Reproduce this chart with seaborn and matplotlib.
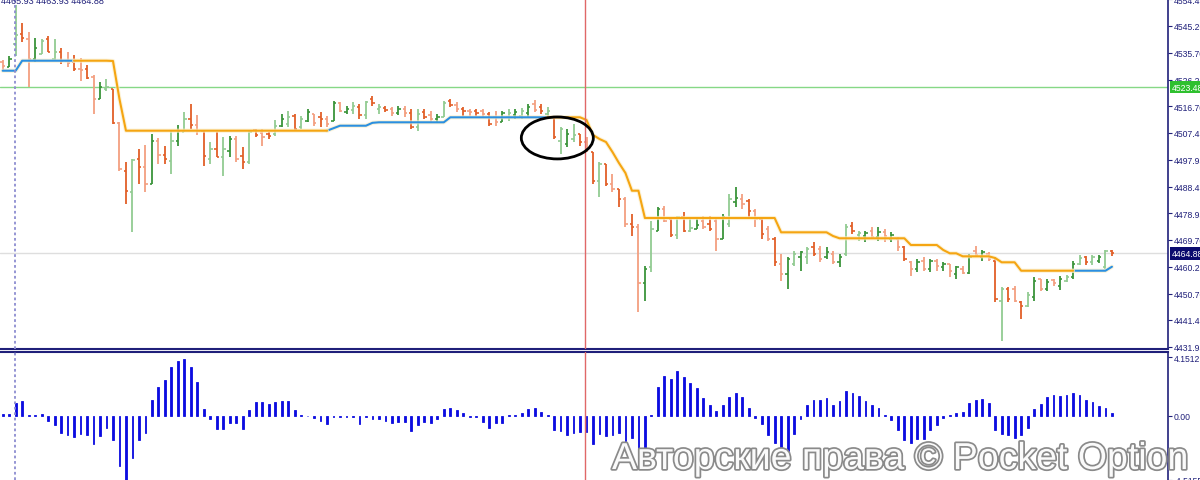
import matplotlib
matplotlib.use("Agg")
import matplotlib.pyplot as plt
import matplotlib.patheffects as pe
from matplotlib.patches import Ellipse
import numpy as np
import pandas as pd
import seaborn as sns

# OHLC bars (one per period)
open_ = [
    4532.39, 4530.63, 4538.74, 4542.27, 4540.51, 4533.45, 4535.22, 4540.51, 4533.45, 4535.92,
    4532.75, 4532.39, 4529.92, 4529.92, 4527.10, 4519.34, 4522.87, 4522.87, 4510.87, 4493.94,
    4486.53, 4498.17, 4495.35, 4489.35, 4504.52, 4499.58, 4497.47, 4504.52, 4507.70, 4512.28,
    4510.17, 4508.05, 4498.17, 4501.70, 4498.88, 4500.99, 4505.23, 4499.23, 4497.11, 4508.40,
    4507.34, 4506.99, 4506.99, 4509.81, 4510.52, 4513.34, 4509.46, 4511.58, 4514.05, 4512.99,
    4512.28, 4511.58, 4517.93, 4514.75, 4515.46, 4516.52, 4513.70, 4519.34, 4515.81, 4516.16,
    4515.81, 4514.40, 4515.81, 4514.40, 4509.46, 4514.75, 4513.70, 4512.28, 4512.99, 4518.63,
    4517.22, 4515.81, 4515.11, 4515.11, 4515.11, 4514.05, 4512.99, 4511.23, 4512.99, 4513.70,
    4513.34, 4514.40, 4517.58, 4516.52, 4514.05, 4512.99, 4504.52, 4503.46, 4505.23, 4506.99,
    4504.17, 4500.64, 4490.41, 4496.41, 4489.35, 4487.59, 4484.06, 4475.24, 4474.18, 4454.42,
    4460.07, 4472.77, 4480.53, 4477.00, 4471.36, 4477.71, 4472.77, 4473.48, 4476.30, 4475.24,
    4476.30, 4469.95, 4475.24, 4483.00, 4484.06, 4483.35, 4479.83, 4477.00, 4473.48, 4469.95,
    4461.13, 4457.60, 4461.13, 4463.60, 4463.60, 4467.13, 4466.42, 4463.60, 4464.66, 4461.83,
    4464.66, 4474.53, 4471.36, 4471.01, 4472.77, 4470.65, 4472.42, 4469.95, 4469.95, 4467.13,
    4461.83, 4459.36, 4462.19, 4459.36, 4462.19, 4460.07, 4461.13, 4457.60, 4459.36, 4457.95,
    4465.71, 4463.60, 4464.66, 4462.19, 4448.07, 4452.31, 4452.31, 4447.72, 4446.31, 4449.49,
    4455.84, 4452.31, 4455.48, 4453.37, 4455.13, 4456.54, 4461.13, 4463.60, 4461.83, 4462.19,
    4460.07, 4465.71,
]
high = [
    4533.10, 4534.51, 4552.50, 4546.15, 4542.98, 4540.86, 4540.51, 4541.57, 4540.51, 4537.33,
    4535.92, 4534.86, 4533.80, 4531.34, 4527.81, 4525.34, 4526.40, 4522.87, 4511.23, 4497.11,
    4498.17, 4501.70, 4503.11, 4506.99, 4505.58, 4502.76, 4508.05, 4510.17, 4514.75, 4517.58,
    4513.70, 4508.05, 4504.17, 4507.70, 4505.93, 4506.29, 4506.29, 4502.41, 4508.05, 4508.76,
    4508.76, 4507.70, 4511.93, 4514.05, 4515.11, 4514.05, 4513.34, 4515.81, 4514.05, 4514.75,
    4513.34, 4518.63, 4518.28, 4516.87, 4518.28, 4517.58, 4518.63, 4520.40, 4517.58, 4516.87,
    4516.52, 4516.87, 4516.87, 4515.81, 4515.81, 4515.81, 4515.11, 4514.05, 4518.63, 4519.34,
    4518.28, 4516.52, 4515.81, 4515.81, 4515.81, 4514.75, 4515.11, 4515.11, 4515.81, 4515.81,
    4516.16, 4517.58, 4518.99, 4517.58, 4516.52, 4512.99, 4509.46, 4508.76, 4510.52, 4506.99,
    4505.93, 4500.64, 4497.11, 4496.41, 4492.88, 4487.59, 4484.77, 4478.77, 4475.24, 4460.42,
    4476.30, 4481.24, 4481.59, 4477.71, 4478.06, 4479.47, 4477.71, 4477.00, 4478.06, 4478.06,
    4477.00, 4478.77, 4485.82, 4488.29, 4485.82, 4484.06, 4480.53, 4477.00, 4474.53, 4470.65,
    4464.66, 4463.60, 4465.71, 4465.71, 4467.13, 4468.89, 4467.48, 4467.13, 4465.71, 4464.66,
    4475.24, 4475.95, 4472.77, 4472.77, 4474.18, 4474.18, 4473.48, 4472.42, 4470.65, 4467.48,
    4462.19, 4462.89, 4463.60, 4462.89, 4462.89, 4461.83, 4461.13, 4460.42, 4460.42, 4464.66,
    4467.48, 4466.07, 4465.36, 4463.60, 4453.01, 4453.01, 4453.37, 4448.07, 4451.25, 4456.54,
    4455.84, 4455.84, 4455.84, 4456.89, 4457.25, 4462.19, 4464.30, 4463.95, 4464.30, 4464.30,
    4466.07, 4465.93,
]
low = [
    4529.57, 4530.63, 4534.51, 4539.45, 4523.57, 4532.39, 4535.22, 4535.92, 4532.75, 4531.69,
    4530.63, 4529.22, 4525.69, 4526.40, 4514.05, 4519.34, 4522.16, 4510.52, 4493.94, 4482.30,
    4472.42, 4489.35, 4486.53, 4489.35, 4496.41, 4496.41, 4492.88, 4502.76, 4507.70, 4508.76,
    4506.64, 4495.70, 4496.41, 4498.88, 4492.17, 4498.88, 4497.11, 4494.64, 4496.41, 4505.93,
    4502.76, 4505.23, 4506.29, 4509.46, 4509.46, 4508.05, 4508.76, 4511.23, 4509.81, 4509.46,
    4509.46, 4511.58, 4514.75, 4514.05, 4514.05, 4512.28, 4512.28, 4516.87, 4514.05, 4514.75,
    4513.34, 4513.70, 4512.99, 4508.76, 4508.05, 4512.28, 4511.23, 4511.23, 4512.99, 4516.52,
    4514.75, 4513.34, 4513.34, 4513.34, 4512.99, 4509.81, 4509.81, 4511.23, 4511.58, 4512.28,
    4512.28, 4512.99, 4514.75, 4514.05, 4513.34, 4505.23, 4499.94, 4502.41, 4504.17, 4502.76,
    4500.64, 4489.35, 4484.77, 4488.65, 4486.53, 4481.24, 4474.18, 4471.01, 4444.19, 4448.07,
    4458.31, 4472.77, 4475.95, 4470.65, 4469.95, 4472.42, 4472.42, 4473.48, 4473.48, 4472.77,
    4465.71, 4469.95, 4474.18, 4481.24, 4480.53, 4477.00, 4474.18, 4469.95, 4469.24, 4460.42,
    4455.13, 4452.31, 4460.42, 4458.66, 4461.13, 4463.95, 4461.83, 4462.89, 4461.13, 4460.07,
    4463.95, 4471.71, 4469.24, 4468.89, 4469.95, 4469.24, 4468.89, 4468.89, 4465.71, 4462.19,
    4456.89, 4458.31, 4458.66, 4458.31, 4458.66, 4458.66, 4456.54, 4455.84, 4457.60, 4457.60,
    4463.60, 4462.19, 4462.19, 4447.72, 4433.96, 4447.72, 4447.72, 4441.72, 4445.96, 4448.07,
    4451.60, 4451.60, 4453.37, 4451.96, 4454.78, 4455.84, 4460.78, 4460.78, 4460.78, 4461.48,
    4459.36, 4463.93,
]
close = [
    4530.98, 4533.45, 4541.92, 4540.86, 4533.45, 4537.33, 4539.80, 4535.92, 4535.92, 4532.75,
    4532.04, 4529.92, 4529.57, 4526.75, 4519.34, 4523.57, 4523.57, 4510.87, 4494.64, 4486.88,
    4497.82, 4495.35, 4489.35, 4504.52, 4499.58, 4498.17, 4504.52, 4508.05, 4512.28, 4510.17,
    4508.05, 4499.23, 4501.70, 4498.88, 4501.70, 4505.23, 4498.17, 4497.11, 4507.70, 4506.64,
    4505.93, 4506.29, 4509.81, 4512.28, 4512.99, 4508.76, 4512.28, 4514.75, 4510.87, 4512.28,
    4510.52, 4517.93, 4515.11, 4515.81, 4516.87, 4513.70, 4518.28, 4517.93, 4516.52, 4515.46,
    4514.40, 4515.81, 4514.40, 4509.46, 4514.05, 4512.99, 4512.28, 4512.99, 4517.93, 4517.22,
    4515.81, 4515.11, 4514.75, 4514.40, 4514.05, 4510.52, 4511.23, 4514.40, 4514.40, 4514.75,
    4515.11, 4516.52, 4515.46, 4515.11, 4515.11, 4505.93, 4508.76, 4506.99, 4506.64, 4504.17,
    4501.70, 4490.41, 4496.41, 4489.35, 4487.59, 4484.06, 4475.24, 4474.18, 4454.42, 4459.36,
    4473.48, 4480.53, 4476.30, 4471.36, 4477.71, 4472.77, 4473.83, 4474.89, 4474.18, 4473.48,
    4469.95, 4477.71, 4484.06, 4484.41, 4482.30, 4479.83, 4477.00, 4471.71, 4469.95, 4461.83,
    4457.60, 4462.89, 4464.66, 4465.36, 4466.42, 4464.66, 4462.89, 4465.36, 4461.83, 4463.60,
    4474.18, 4472.77, 4472.06, 4472.06, 4470.65, 4472.42, 4471.01, 4471.36, 4467.13, 4462.89,
    4459.36, 4461.83, 4459.36, 4462.19, 4460.42, 4461.13, 4458.66, 4460.07, 4457.95, 4463.60,
    4464.30, 4465.36, 4462.89, 4448.78, 4452.31, 4448.78, 4448.07, 4446.31, 4450.19, 4455.13,
    4452.31, 4454.78, 4454.42, 4455.84, 4456.54, 4461.13, 4463.24, 4461.83, 4463.60, 4463.60,
    4465.71, 4464.88,
]

# trailing stop line and its direction
stop_line = [
    4529.32, 4529.32, 4529.32, 4532.85, 4532.85, 4532.85, 4532.85, 4532.85, 4532.85, 4532.85,
    4532.85, 4532.85, 4532.85, 4532.85, 4532.85, 4532.85, 4532.85, 4532.75, 4519.34, 4508.16,
    4508.16, 4508.16, 4508.16, 4508.16, 4508.16, 4508.16, 4508.16, 4508.16, 4508.16, 4508.16,
    4508.16, 4508.16, 4508.16, 4508.16, 4508.16, 4508.16, 4508.16, 4508.16, 4508.16, 4508.16,
    4508.16, 4508.16, 4508.16, 4508.16, 4508.16, 4508.16, 4508.16, 4508.16, 4508.16, 4508.16,
    4508.16, 4509.04, 4509.92, 4509.92, 4509.92, 4509.92, 4509.92, 4510.94, 4511.12, 4511.12,
    4511.12, 4511.12, 4511.12, 4511.12, 4511.12, 4511.12, 4511.12, 4511.12, 4511.12, 4512.88,
    4512.88, 4512.88, 4512.88, 4512.88, 4512.88, 4512.88, 4512.88, 4512.88, 4512.88, 4512.88,
    4512.88, 4512.88, 4512.88, 4512.88, 4512.88, 4512.88, 4512.88, 4512.88, 4512.88, 4512.88,
    4511.93, 4506.64, 4505.23, 4504.17, 4500.64, 4496.76, 4493.23, 4486.99, 4486.99, 4477.36,
    4477.36, 4477.36, 4477.36, 4477.36, 4477.36, 4477.36, 4477.36, 4477.36, 4477.36, 4477.36,
    4477.36, 4477.36, 4477.36, 4477.36, 4477.36, 4477.36, 4477.36, 4477.36, 4477.36, 4477.36,
    4472.31, 4472.31, 4472.31, 4472.31, 4472.31, 4472.31, 4472.31, 4472.31, 4471.01, 4470.20,
    4470.20, 4470.20, 4470.20, 4470.20, 4470.20, 4470.20, 4470.20, 4470.20, 4470.20, 4470.20,
    4467.83, 4467.83, 4467.83, 4467.83, 4467.83, 4466.07, 4464.90, 4464.90, 4463.84, 4463.84,
    4463.84, 4463.84, 4463.84, 4463.24, 4461.73, 4461.73, 4461.73, 4458.76, 4458.76, 4458.76,
    4458.76, 4458.76, 4458.76, 4458.76, 4458.76, 4458.76, 4458.76, 4458.76, 4458.76, 4458.76,
    4458.76, 4460.17,
]
trend_runs = [("up", 12), ("down", 39), ("up", 34), ("down", 81), ("up", 6)]

# oscillator histogram (lower panel)
osc = [
    0.12, 0.16, 0.94, 1.03, 0.03, 0.03, 0.16, -0.38, -0.66, -1.17,
    -1.36, -1.48, -1.29, -1.36, -1.95, -1.41, -0.84, -1.69, -3.52, -4.50,
    -2.93, -1.69, -1.17, 1.13, 2.04, 2.51, 3.47, 3.85, 4.04, 3.47,
    2.37, 0.49, -0.21, -0.94, -0.94, -0.49, -0.52, -0.94, 0.45, 1.01,
    1.01, 0.82, 0.96, 1.08, 1.08, 0.40, 0.05, 0.02, -0.16, -0.33,
    -0.56, -0.05, -0.05, -0.05, -0.05, -0.56, -0.09, -0.19, -0.19, -0.33,
    -0.52, -0.42, -0.40, -1.03, -0.61, -0.42, -0.47, -0.19, 0.47, 0.56,
    0.40, 0.19, -0.09, -0.09, -0.40, -0.84, -0.47, -0.47, 0.07, 0.09,
    0.19, 0.52, 0.56, 0.28, 0.05, -0.99, -1.03, -1.36, -1.17, -1.10,
    -1.10, -1.97, -1.29, -1.41, -1.36, -1.17, -1.76, -1.53, -2.46, -2.35,
    0.05, 2.04, 2.79, 2.63, 3.17, 2.72, 2.32, 2.00, 1.24, 0.75,
    0.33, 0.75, 1.36, 1.60, 1.36, 0.59, -0.12, -0.59, -1.36, -1.92,
    -2.46, -2.46, -1.29, -0.23, 0.75, 1.10, 1.10, 1.29, 0.80, 1.03,
    1.74, 1.64, 1.41, 1.06, 0.75, 0.55, 0.07, -0.30, -1.01, -1.69,
    -1.88, -1.64, -1.60, -1.01, -0.66, -0.12, 0.05, 0.23, 0.28, 0.94,
    1.13, 1.17, 0.94, -1.01, -1.29, -1.36, -1.53, -1.36, -0.87, 0.47,
    0.87, 1.36, 1.46, 1.38, 1.46, 1.64, 1.46, 1.13, 0.99, 0.70,
    0.59, 0.23,
]

price_ticks = [4431.95, 4441.45, 4450.70, 4460.20, 4469.70, 4478.95, 4488.45,
               4497.95, 4507.45, 4516.70, 4526.20, 4535.70, 4545.20, 4554.45]
osc_ticks = [4.1512, 0.0, -4.5155]
osc_tick_labels = ["4.1512", "0.00", "-4.5155"]
level_line = 4523.48
last_price = 4464.88
header_text = "4465.93 4463.93 4464.88"
watermark = "Авторские права © Pocket Option"

NAVY = "#20207a"
UP_DARK, UP_LIGHT = "#3a943a", "#92cb92"
DN_DARK, DN_LIGHT = "#e25f28", "#f39f80"

sns.set_style("white")
plt.rcParams["font.family"] = ["Liberation Sans", "DejaVu Sans"]

W, H = 1200, 481
fig = plt.figure(figsize=(12, 4.81), dpi=100)
ax = fig.add_axes([0, 131.5 / H, 1168 / W, 349.5 / H])
ax2 = fig.add_axes([0, 0, 1168 / W, 128.5 / H])

idx = np.arange(len(close))
up = np.array(close) >= np.array(open_)
dark = idx % 2 == 1
bar_colors = np.where(up, np.where(dark, UP_DARK, UP_LIGHT),
                      np.where(dark, DN_DARK, DN_LIGHT))

# price bars
ax.vlines(idx, low, high, colors=bar_colors, lw=1.3, zorder=3)
ax.hlines(open_, idx - 0.36, idx, colors=bar_colors, lw=1.2, zorder=3)
ax.hlines(close, idx, idx + 0.36, colors=bar_colors, lw=1.2, zorder=3)

# stop line, one run per trend so colours switch cleanly
stop_trend = []
for name, n in trend_runs:
    stop_trend += [name] * n
rows = []
run = 0
for i, (p, t) in enumerate(zip(stop_line, stop_trend)):
    if i > 0 and t != stop_trend[i - 1]:
        run += 1
        rows.append({"bar": i - 1, "price": stop_line[i - 1], "trend": t, "run": run})
    rows.append({"bar": i, "price": p, "trend": t, "run": run})
stop_df = pd.DataFrame(rows)
sns.lineplot(data=stop_df, x="bar", y="price", hue="trend", units="run",
             estimator=None, sort=False, palette={"up": "#2b8fe0", "down": "#f5a512"},
             lw=1.5, legend=False, ax=ax, zorder=4)
for line in ax.get_lines():
    line.set_path_effects([pe.Stroke(linewidth=3, foreground="#fbeec8", alpha=0.7),
                           pe.Normal()])

# reference lines
ax.axhline(level_line, color="#86d886", lw=1, zorder=2)
ax.axhline(last_price, color="#dedede", lw=1, zorder=1)
cursor_x = 89.77
for a in (ax, ax2):
    a.axvline(cursor_x, color="#e06868", lw=1, zorder=5)
    a.axvline(1.82, color="#8c8cd0", lw=1.3, ls=(0, (1.5, 1.5)), zorder=5)

ax.add_patch(Ellipse((85.5, 4505.6), 11.1, 14.8, fill=False, ec="black", lw=2, zorder=6))

# oscillator
osc_df = pd.DataFrame({"bar": idx, "value": osc})
sns.barplot(data=osc_df, x="bar", y="value", native_scale=True, width=0.28,
            color="#0c0ce0", saturation=1, errorbar=None, linewidth=0.6,
            edgecolor="#0c0ce0", ax=ax2)

# axes styling
for a in (ax, ax2):
    a.set_xlim(-0.416, 179.64)
    a.set_xticks([])
    a.set_xlabel("")
    a.set_ylabel("")
    a.yaxis.tick_right()
    a.tick_params(axis="y", direction="out", length=3, width=0.8, color=NAVY,
                  labelcolor=NAVY, labelsize=6.2, pad=1.2)
    a.spines["left"].set_visible(False)
    a.spines["right"].set_color(NAVY)
    a.spines["right"].set_linewidth(1.2)
ax.spines["top"].set_visible(False)
ax.spines["bottom"].set_color(NAVY)
ax.spines["bottom"].set_linewidth(1.5)
ax2.spines["bottom"].set_visible(False)
ax2.spines["top"].set_color(NAVY)
ax2.spines["top"].set_linewidth(1.5)

ax.set_ylim(4431.32, 4554.62)
ax.set_yticks(price_ticks)
ax.set_yticklabels([f"{t:.2f}" for t in price_ticks])
ax2.set_ylim(-4.5155, 4.54)
ax2.set_yticks(osc_ticks)
ax2.set_yticklabels(osc_tick_labels)

ytr = ax.get_yaxis_transform()
ax.text(1.003, level_line, f"{level_line:.2f}", transform=ytr, color="white",
        fontsize=6.2, va="center", ha="left", clip_on=False, zorder=7,
        bbox=dict(boxstyle="square,pad=0.2", fc="#2fc02f", ec="none"))
ax.text(1.003, last_price, f"{last_price:.2f}", transform=ytr, color="white",
        fontsize=6.2, va="center", ha="left", clip_on=False, zorder=7,
        bbox=dict(boxstyle="square,pad=0.2", fc="#0a0a6e", ec="none"))

fig.text(0.001, 1 - 4 / H, header_text, fontsize=6.5, color=NAVY,
         ha="left", va="baseline")
fig.text(612 / W, 1 - 470 / H, watermark, fontsize=27, color="#fafafa",
         ha="left", va="baseline", zorder=10,
         path_effects=[pe.withStroke(linewidth=2.5, foreground="#8a8a8a")])

fig.savefig("out.png", dpi=100, facecolor="white")
